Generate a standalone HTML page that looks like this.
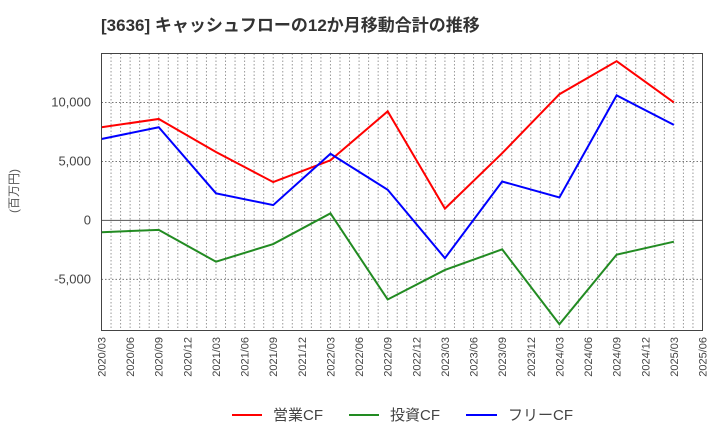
<!DOCTYPE html>
<html><head><meta charset="utf-8"><style>
body{margin:0;background:#fff;font-family:"Liberation Sans","Noto Sans CJK JP",sans-serif;}
</style></head><body>
<svg width="720" height="440" xmlns="http://www.w3.org/2000/svg" font-family="Liberation Sans, Noto Sans CJK JP, sans-serif">
<text x="101" y="31" font-size="17" font-weight="bold" fill="#333">[3636]  キャッシュフローの12か月移動合計の推移</text>
<text transform="translate(18,191) rotate(-90)" text-anchor="middle" font-size="12" fill="#555">(百万円)</text>
<g id="grid"></g>
<g id="series"></g>
<rect x="101.5" y="53.5" width="601" height="277" fill="none" stroke="#444" stroke-width="1"/>
<g font-size="15" fill="#444">
<line x1="232" y1="415" x2="262" y2="415" stroke="#ff0000" stroke-width="2"/>
<text x="273" y="420">営業CF</text>
<line x1="349" y1="415" x2="379" y2="415" stroke="#228b22" stroke-width="2"/>
<text x="390" y="420">投資CF</text>
<line x1="466" y1="415" x2="497" y2="415" stroke="#0000ff" stroke-width="2"/>
<text x="508" y="420">フリーCF</text>
</g>
</svg>
<script>
const categories=["2020/03","2020/09","2021/03","2021/09","2022/03","2022/09","2023/03","2023/09","2024/03","2024/09","2025/03"];
const operatingCF=[7900,8600,5800,3250,5100,9250,1000,5700,10700,13500,10000];
const investingCF=[-1000,-800,-3500,-2000,600,-6700,-4200,-2450,-8800,-2900,-1800];
const freeCF=[6900,7900,2300,1300,5650,2600,-3200,3300,1950,10600,8100];
const yTicks=[-5000,0,5000,10000];
const xTickLabels=["2020/03","2020/06","2020/09","2020/12","2021/03","2021/06","2021/09","2021/12","2022/03","2022/06","2022/09","2022/12","2023/03","2023/06","2023/09","2023/12","2024/03","2024/06","2024/09","2024/12","2025/03","2025/06"];
const NS="http://www.w3.org/2000/svg";
const L=101.5,R=702.5,T=53.5,B=330.5;
const yMin=-9330,yMax=14150;
function y(v){return B-(v-yMin)/(yMax-yMin)*(B-T);}
function monthIdx(s){const p=s.split("/");return (+p[0]-2020)*12+(+p[1]-3);}
const totalM=monthIdx("2025/06");
function x(s){return L+monthIdx(s)/totalM*(R-L);}
const grid=document.getElementById("grid");
for(let m=1;m<totalM;m++){
 const l=document.createElementNS(NS,"line");
 const xx=L+m/totalM*(R-L);
 l.setAttribute("x1",xx);l.setAttribute("x2",xx);l.setAttribute("y1",T);l.setAttribute("y2",B);
 l.setAttribute("stroke","#999");l.setAttribute("stroke-dasharray","1.5,2");l.setAttribute("stroke-width","1");
 
 
 grid.appendChild(l);
}
yTicks.forEach(v=>{
 const l=document.createElementNS(NS,"line");
 l.setAttribute("x1",L);l.setAttribute("x2",R);l.setAttribute("y1",y(v));l.setAttribute("y2",y(v));
 l.setAttribute("stroke",v===0?"#555":"#777");
 if(v!==0)l.setAttribute("stroke-dasharray","1.5,2");
 
 
 grid.appendChild(l);
 const t=document.createElementNS(NS,"text");
 t.setAttribute("x",91);t.setAttribute("y",y(v)+4);t.setAttribute("text-anchor","end");
 t.setAttribute("font-size","13");t.setAttribute("fill","#444");
 t.textContent=v.toLocaleString("en-US");
 
 
 grid.appendChild(t);
});
xTickLabels.forEach(s=>{
 const t=document.createElementNS(NS,"text");
 const xx=x(s)+4;
 t.setAttribute("transform","translate("+xx+",337) rotate(-90)");
 t.setAttribute("text-anchor","end");t.setAttribute("font-size","11");t.setAttribute("fill","#444");
 t.textContent=s;
 
 
 grid.appendChild(t);
});
const sg=document.getElementById("series");
[[operatingCF,"#ff0000","operating-cf-line"],[investingCF,"#228b22","investing-cf-line"],[freeCF,"#0000ff","free-cf-line"]].forEach(([d,c,n])=>{
 const p=document.createElementNS(NS,"polyline");
 p.setAttribute("points",d.map((v,i)=>x(categories[i])+","+y(v)).join(" "));
 p.setAttribute("fill","none");p.setAttribute("stroke",c);p.setAttribute("stroke-width","2");
 
 
 sg.appendChild(p);
});
</script>
</body></html>
